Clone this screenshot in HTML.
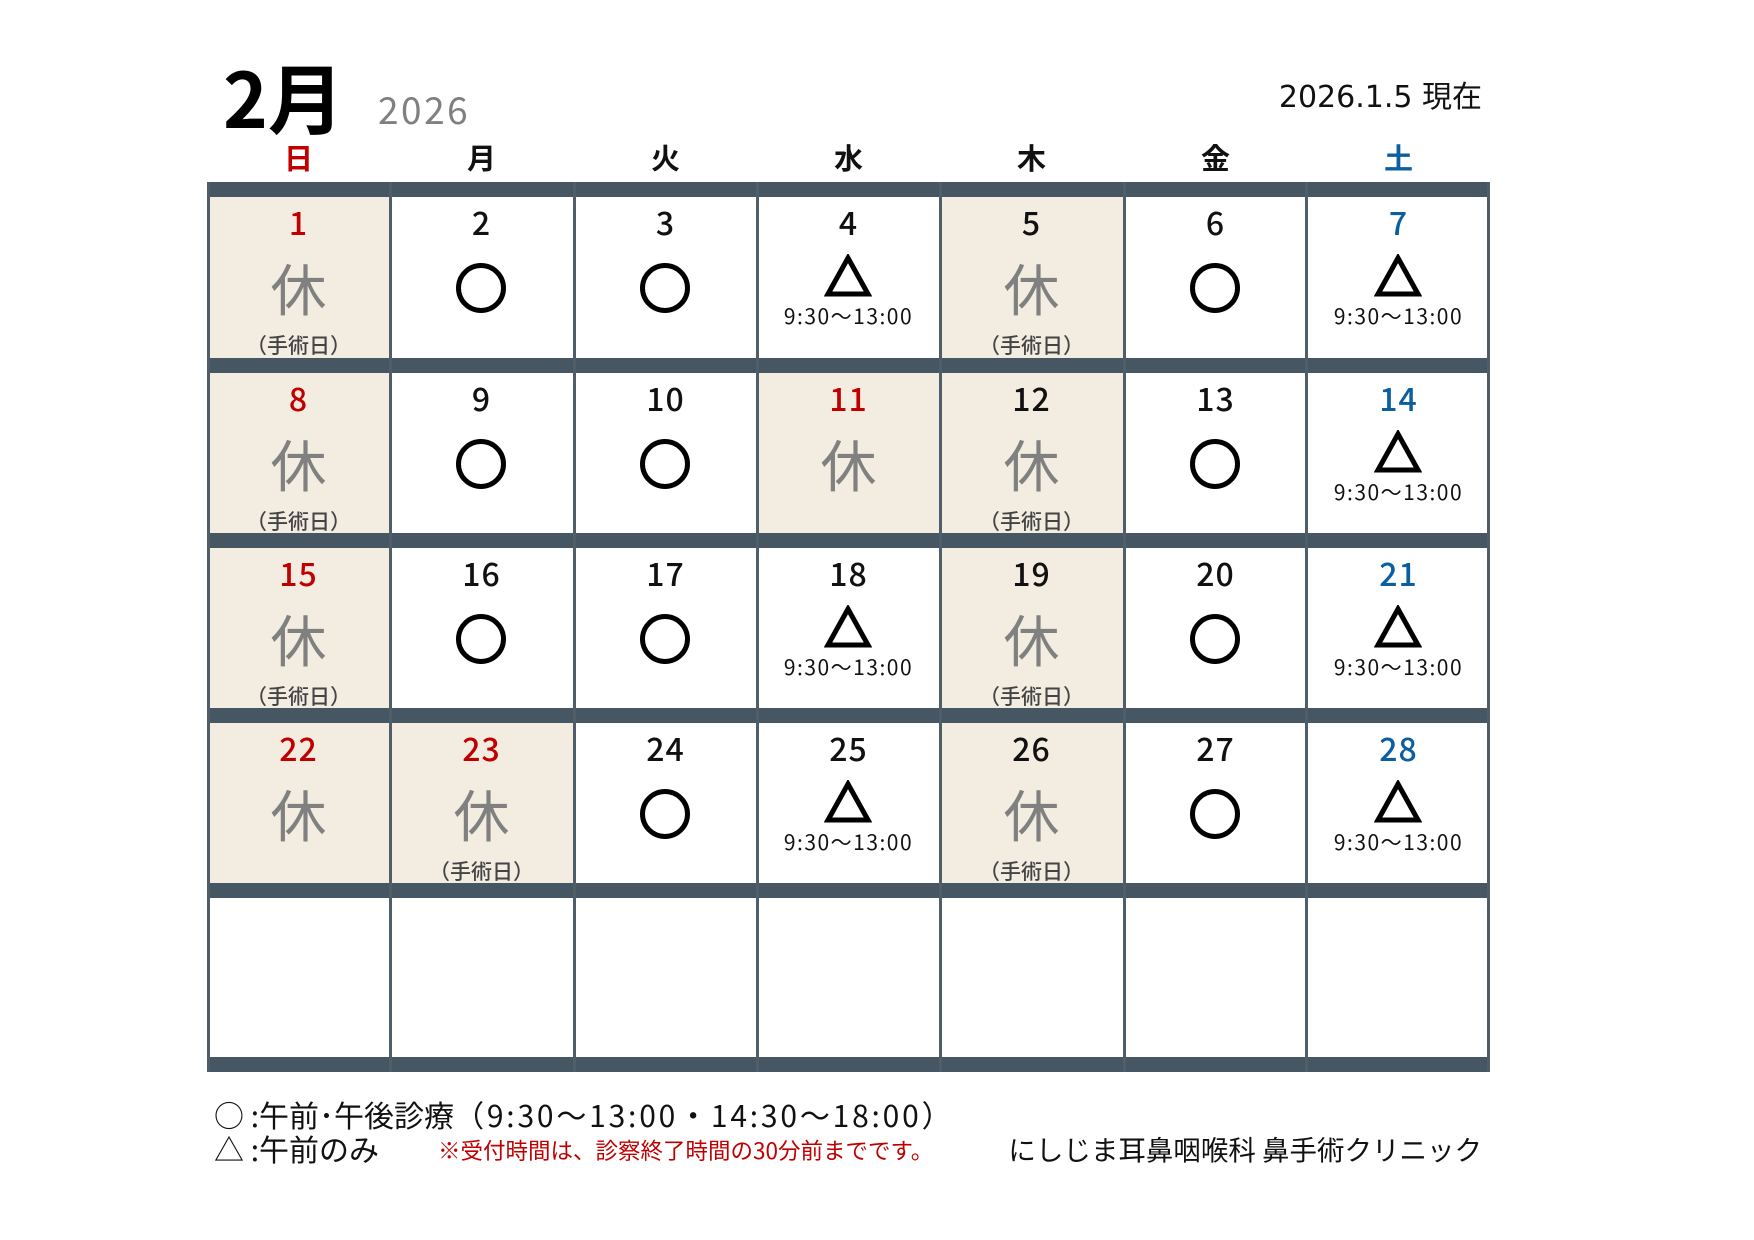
<!DOCTYPE html>
<html><head><meta charset="utf-8">
<style>
body{margin:0;width:1754px;height:1240px;background:#fff;position:relative;overflow:hidden;font-family:"Noto Sans CJK JP","Liberation Sans",sans-serif;}
.a{position:absolute;white-space:nowrap}
.bar{position:absolute;left:207px;width:1283px;height:15px;background:#465763}
.vl{position:absolute;top:182px;width:3px;height:890px;background:#4f5e69}
.c{position:absolute;width:183px}
.b{background:#f2ece1}
.n{position:absolute;left:0;right:0;top:8px;text-align:center;font-size:32px;line-height:34px;font-weight:500;color:#111;letter-spacing:1px}
.r{color:#c00000}.bl{color:#0b5ea0}
.k{position:absolute;left:0;right:0;top:62px;text-align:center;font-size:56px;line-height:58px;color:#808080}
.s{position:absolute;left:0;right:0;top:136px;text-align:center;font-size:21px;line-height:24px;color:#444;font-weight:500}
.o{position:absolute;left:65px;top:65px}
.t{position:absolute;left:67px;top:57px}
.tm{position:absolute;left:0;right:0;top:107px;text-align:center;font-size:21px;line-height:24px;color:#111;letter-spacing:1.5px}
.h{position:absolute;top:140px;width:183px;text-align:center;font-size:29px;line-height:34px;font-weight:bold;color:#111}
</style></head><body>
<div class="a" style="left:223px;top:50px;font-size:76px;font-weight:bold;line-height:90px;color:#000">2月</div>
<div class="a" style="left:378px;top:86px;font-size:37px;line-height:44px;color:#808080;letter-spacing:2.5px">2026</div>
<div class="a" style="right:272px;top:78px;font-size:30px;line-height:40px;color:#111;font-family:'DejaVu Sans','Noto Sans CJK JP',sans-serif">2026.1.5 現在</div>

<div class="h" style="left:207px;color:#c00000">日</div>
<div class="h" style="left:390px">月</div>
<div class="h" style="left:574px">火</div>
<div class="h" style="left:757px">水</div>
<div class="h" style="left:940px">木</div>
<div class="h" style="left:1124px">金</div>
<div class="h" style="left:1307px;color:#0b5ea0">土</div>

<!-- row 1 -->
<div class="c b" style="left:207px;top:197px;height:161px"><div class="n r">1</div><div class="k">休</div><div class="s">（手術日）</div></div>
<div class="c" style="left:390px;top:197px;height:161px"><div class="n">2</div><svg class="o" width="52" height="52"><circle cx="26" cy="26" r="22.5" fill="none" stroke="#000" stroke-width="5"/></svg></div>
<div class="c" style="left:574px;top:197px;height:161px"><div class="n">3</div><svg class="o" width="52" height="52"><circle cx="26" cy="26" r="22.5" fill="none" stroke="#000" stroke-width="5"/></svg></div>
<div class="c" style="left:757px;top:197px;height:161px"><div class="n">4</div><svg class="t" width="48" height="44"><polygon points="24,4 44,40 4,40" fill="none" stroke="#000" stroke-width="5"/></svg><div class="tm">9:30〜13:00</div></div>
<div class="c b" style="left:940px;top:197px;height:161px"><div class="n">5</div><div class="k">休</div><div class="s">（手術日）</div></div>
<div class="c" style="left:1124px;top:197px;height:161px"><div class="n">6</div><svg class="o" width="52" height="52"><circle cx="26" cy="26" r="22.5" fill="none" stroke="#000" stroke-width="5"/></svg></div>
<div class="c" style="left:1307px;top:197px;height:161px"><div class="n bl">7</div><svg class="t" width="48" height="44"><polygon points="24,4 44,40 4,40" fill="none" stroke="#000" stroke-width="5"/></svg><div class="tm">9:30〜13:00</div></div>

<!-- row 2 -->
<div class="c b" style="left:207px;top:373px;height:160px"><div class="n r">8</div><div class="k">休</div><div class="s">（手術日）</div></div>
<div class="c" style="left:390px;top:373px;height:160px"><div class="n">9</div><svg class="o" width="52" height="52"><circle cx="26" cy="26" r="22.5" fill="none" stroke="#000" stroke-width="5"/></svg></div>
<div class="c" style="left:574px;top:373px;height:160px"><div class="n">10</div><svg class="o" width="52" height="52"><circle cx="26" cy="26" r="22.5" fill="none" stroke="#000" stroke-width="5"/></svg></div>
<div class="c b" style="left:757px;top:373px;height:160px"><div class="n r">11</div><div class="k">休</div></div>
<div class="c b" style="left:940px;top:373px;height:160px"><div class="n">12</div><div class="k">休</div><div class="s">（手術日）</div></div>
<div class="c" style="left:1124px;top:373px;height:160px"><div class="n">13</div><svg class="o" width="52" height="52"><circle cx="26" cy="26" r="22.5" fill="none" stroke="#000" stroke-width="5"/></svg></div>
<div class="c" style="left:1307px;top:373px;height:160px"><div class="n bl">14</div><svg class="t" width="48" height="44"><polygon points="24,4 44,40 4,40" fill="none" stroke="#000" stroke-width="5"/></svg><div class="tm">9:30〜13:00</div></div>

<!-- row 3 -->
<div class="c b" style="left:207px;top:548px;height:160px"><div class="n r">15</div><div class="k">休</div><div class="s">（手術日）</div></div>
<div class="c" style="left:390px;top:548px;height:160px"><div class="n">16</div><svg class="o" width="52" height="52"><circle cx="26" cy="26" r="22.5" fill="none" stroke="#000" stroke-width="5"/></svg></div>
<div class="c" style="left:574px;top:548px;height:160px"><div class="n">17</div><svg class="o" width="52" height="52"><circle cx="26" cy="26" r="22.5" fill="none" stroke="#000" stroke-width="5"/></svg></div>
<div class="c" style="left:757px;top:548px;height:160px"><div class="n">18</div><svg class="t" width="48" height="44"><polygon points="24,4 44,40 4,40" fill="none" stroke="#000" stroke-width="5"/></svg><div class="tm">9:30〜13:00</div></div>
<div class="c b" style="left:940px;top:548px;height:160px"><div class="n">19</div><div class="k">休</div><div class="s">（手術日）</div></div>
<div class="c" style="left:1124px;top:548px;height:160px"><div class="n">20</div><svg class="o" width="52" height="52"><circle cx="26" cy="26" r="22.5" fill="none" stroke="#000" stroke-width="5"/></svg></div>
<div class="c" style="left:1307px;top:548px;height:160px"><div class="n bl">21</div><svg class="t" width="48" height="44"><polygon points="24,4 44,40 4,40" fill="none" stroke="#000" stroke-width="5"/></svg><div class="tm">9:30〜13:00</div></div>

<!-- row 4 -->
<div class="c b" style="left:207px;top:723px;height:160px"><div class="n r">22</div><div class="k">休</div></div>
<div class="c b" style="left:390px;top:723px;height:160px"><div class="n r">23</div><div class="k">休</div><div class="s">（手術日）</div></div>
<div class="c" style="left:574px;top:723px;height:160px"><div class="n">24</div><svg class="o" width="52" height="52"><circle cx="26" cy="26" r="22.5" fill="none" stroke="#000" stroke-width="5"/></svg></div>
<div class="c" style="left:757px;top:723px;height:160px"><div class="n">25</div><svg class="t" width="48" height="44"><polygon points="24,4 44,40 4,40" fill="none" stroke="#000" stroke-width="5"/></svg><div class="tm">9:30〜13:00</div></div>
<div class="c b" style="left:940px;top:723px;height:160px"><div class="n">26</div><div class="k">休</div><div class="s">（手術日）</div></div>
<div class="c" style="left:1124px;top:723px;height:160px"><div class="n">27</div><svg class="o" width="52" height="52"><circle cx="26" cy="26" r="22.5" fill="none" stroke="#000" stroke-width="5"/></svg></div>
<div class="c" style="left:1307px;top:723px;height:160px"><div class="n bl">28</div><svg class="t" width="48" height="44"><polygon points="24,4 44,40 4,40" fill="none" stroke="#000" stroke-width="5"/></svg><div class="tm">9:30〜13:00</div></div>

<div class="bar" style="top:182px"></div>
<div class="bar" style="top:358px"></div>
<div class="bar" style="top:533px"></div>
<div class="bar" style="top:708px"></div>
<div class="bar" style="top:883px"></div>
<div class="bar" style="top:1057px"></div>

<div class="vl" style="left:207px"></div>
<div class="vl" style="left:389px"></div>
<div class="vl" style="left:573px"></div>
<div class="vl" style="left:756px"></div>
<div class="vl" style="left:939px"></div>
<div class="vl" style="left:1123px"></div>
<div class="vl" style="left:1305px"></div>
<div class="vl" style="left:1487px"></div>

<div class="a" style="left:214px;top:1094px;font-size:30px;line-height:40px;color:#111">○ :午前･午後診療<span style="letter-spacing:2.8px">（9:30〜13:00・14:30〜18:00）</span></div>
<div class="a" style="left:214px;top:1128px;font-size:30px;line-height:40px;color:#111">△ :午前のみ</div>
<div class="a" style="left:438px;top:1135px;font-size:22.5px;line-height:30px;color:#c00000">※受付時間は、診察終了時間の30分前までです。</div>
<div class="a" style="right:272px;top:1130px;font-size:27.5px;line-height:36px;color:#111">にしじま耳鼻咽喉科 鼻手術クリニック</div>
</body></html>
